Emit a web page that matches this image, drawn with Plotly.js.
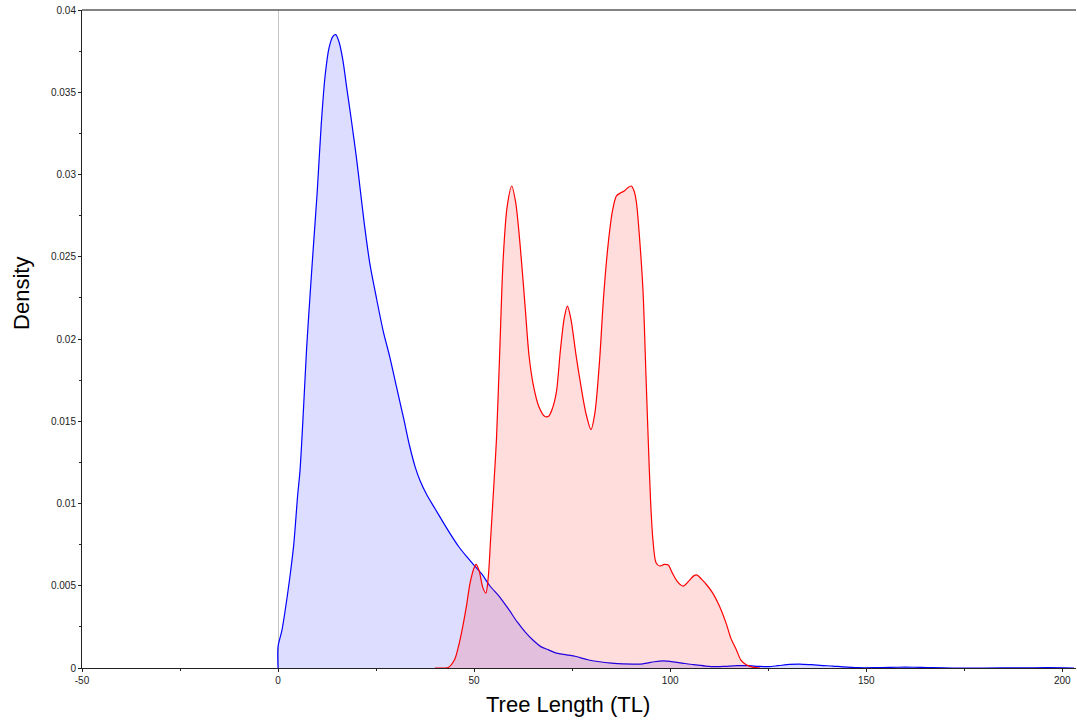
<!DOCTYPE html>
<html>
<head>
<meta charset="utf-8">
<script src="https://cdn.plot.ly/plotly-3.0.1.min.js"></script>
<style>
  html, body { margin: 0; padding: 0; background: #fff; }
  #chart { width: 1077px; height: 724px; }
</style>
</head>
<body>
<div id="chart"></div>
<script>
// Kernel density estimate, first group (blue); the curve is cut off at x = 0
const blueX = [0, 0, 1, 2, 3, 4, 5, 5.6, 6.5, 7.3, 8.2, 9, 10, 11, 12, 13, 14, 14.7, 15.5, 16.5, 17.5, 18.7, 20, 21, 22, 23.4, 25, 26.8, 28.5, 30.2, 32, 33.6, 35, 36.2, 38, 40, 42, 43.8, 46, 48, 49.8, 52, 54, 56.6, 59, 61, 63, 65, 67, 69, 71, 73.6, 76, 79, 82, 85, 88, 90.5, 93, 96, 98.2, 100, 103, 106, 109, 111.8, 114, 117, 120, 122.5, 125, 127.5, 130.5, 133, 136, 139, 141.5, 144, 148, 152, 156, 160, 164, 167, 172, 180, 190, 196, 203];
const blueY = [0, 0.0013, 0.0023, 0.0038, 0.0055, 0.0075, 0.0105, 0.012, 0.0158, 0.0195, 0.0228, 0.0256, 0.029, 0.033, 0.036, 0.0377, 0.0384, 0.0385, 0.0381, 0.037, 0.0353, 0.0333, 0.031, 0.029, 0.027, 0.0246, 0.0226, 0.0205, 0.0189, 0.0171, 0.0152, 0.01345, 0.0122, 0.0114, 0.0105, 0.0097, 0.0089, 0.0082, 0.0074, 0.0068, 0.0063, 0.0057, 0.005, 0.0043, 0.0035, 0.0028, 0.0022, 0.0017, 0.0013, 0.0011, 0.0009, 0.0008, 0.0007, 0.0005, 0.00038, 0.0003, 0.00025, 0.00024, 0.00025, 0.00038, 0.00043, 0.0004, 0.0003, 0.0002, 0.00012, 0.00008, 0.0001, 0.00014, 0.00014, 0.0001, 0.00008, 0.00014, 0.00022, 0.00024, 0.0002, 0.00015, 0.00012, 0.00007, 0.00002, 0.00002, 0.00004, 0.00005, 0.00004, 0.00002, 0, 0, 0.00001, 0.00002, 0];

// Kernel density estimate, second group (red)
const redX = [40, 43.5, 45, 46, 47, 48, 49, 50, 50.5, 51.3, 52.2, 53, 53.6, 54.2, 55, 55.7, 56.5, 57.4, 58.4, 59.6, 60.6, 61.7, 63, 64, 65.1, 66.5, 68, 69, 70, 71, 72, 73, 73.8, 74.7, 76, 77, 78.5, 79.8, 80.8, 82, 83, 84.2, 85.3, 86.3, 87.5, 88.3, 89.2, 90.1, 90.8, 91.4, 92.3, 93.1, 93.8, 94.4, 95, 95.6, 96.4, 97.3, 98.5, 99.5, 100.5, 102, 103.3, 104.8, 106, 106.9, 108, 109.5, 110.9, 112.5, 114.3, 115.5, 116.9, 118, 119.4, 121, 123];
const redY = [0, 0.00005, 0.0005, 0.0013, 0.0024, 0.0037, 0.0052, 0.0061, 0.0063, 0.0059, 0.0049, 0.00455, 0.0055, 0.0078, 0.011, 0.0139, 0.019, 0.0248, 0.028, 0.0293, 0.0283, 0.0258, 0.022, 0.019, 0.0172, 0.0159, 0.0153, 0.0153, 0.0158, 0.0168, 0.0193, 0.0213, 0.022, 0.0212, 0.019, 0.0175, 0.0155, 0.0145, 0.0155, 0.0187, 0.0225, 0.0258, 0.0278, 0.0287, 0.0289, 0.029, 0.0292, 0.0293, 0.029, 0.0283, 0.0258, 0.0228, 0.018, 0.0139, 0.0102, 0.0078, 0.0064, 0.0062, 0.0063, 0.00626, 0.0058, 0.0052, 0.00498, 0.0053, 0.0056, 0.00565, 0.0054, 0.005, 0.00454, 0.0038, 0.0027, 0.0018, 0.0011, 0.0005, 0.0002, 0.00005, 0];

// X tick positions and their labels (plain hyphen for the negative value)
const xTickVals = [-50, 0, 50, 100, 150, 200];
const xTickText = ['-50', '0', '50', '100', '150', '200'];

const FONT = 'Liberation Sans, Arial, sans-serif';

const traces = [
  {
    x: blueX, y: blueY, type: 'scatter', mode: 'lines',
    line: { color: '#0000ff', width: 1.2, shape: 'spline', smoothing: 0.8 },
    fill: 'tozeroy', fillcolor: 'rgba(0,0,255,0.135)',
    hoverinfo: 'x+y', showlegend: false
  },
  {
    x: redX, y: redY, type: 'scatter', mode: 'lines',
    line: { color: '#ff0000', width: 1.2, shape: 'spline', smoothing: 0.8 },
    fill: 'tozeroy', fillcolor: 'rgba(255,0,0,0.135)',
    hoverinfo: 'x+y', showlegend: false
  }
];

const layout = {
  width: 1077, height: 724,
  margin: { l: 82, r: 1, t: 10, b: 56 },
  paper_bgcolor: '#fff', plot_bgcolor: '#fff',
  font: { family: FONT, size: 10, color: '#222' },
  xaxis: {
    range: [-50, 203.5], tickmode: 'array', tickvals: xTickVals, ticktext: xTickText,
    showgrid: false, zeroline: true, zerolinecolor: '#c4c4c4', zerolinewidth: 1,
    showline: true, linecolor: '#222', linewidth: 1,
    ticks: 'outside', ticklen: 3, tickcolor: '#222',
    minor: { dtick: 25, tick0: -50, ticks: 'outside', ticklen: 2, tickcolor: '#222', showgrid: false },
    tickfont: { family: FONT, size: 10, color: '#222' }
  },
  yaxis: {
    range: [0, 0.04], tick0: 0, dtick: 0.005,
    showgrid: false, zeroline: false,
    showline: true, linecolor: '#222', linewidth: 1,
    ticks: 'outside', ticklen: 3, tickcolor: '#222',
    minor: { dtick: 0.0025, ticks: 'outside', ticklen: 2, tickcolor: '#222', showgrid: false },
    tickfont: { family: FONT, size: 10, color: '#222' }
  },
  shapes: [
    { type: 'line', xref: 'paper', yref: 'paper', x0: 0, x1: 1, y0: 1, y1: 1,
      line: { color: '#5a5a5a', width: 1.5 } }
  ],
  annotations: [
    { text: 'Tree Length (TL)', xref: 'paper', yref: 'paper', x: 0.489, y: -0.055,
      xanchor: 'center', yanchor: 'middle', showarrow: false,
      font: { family: FONT, size: 22, color: '#000' } },
    { text: 'Density', xref: 'paper', yref: 'paper', x: -0.0604, y: 0.57,
      xanchor: 'center', yanchor: 'middle', textangle: -90, showarrow: false,
      font: { family: FONT, size: 22, color: '#000' } }
  ]
};

Plotly.newPlot('chart', traces, layout, { displayModeBar: false, staticPlot: true });
</script>
</body>
</html>
